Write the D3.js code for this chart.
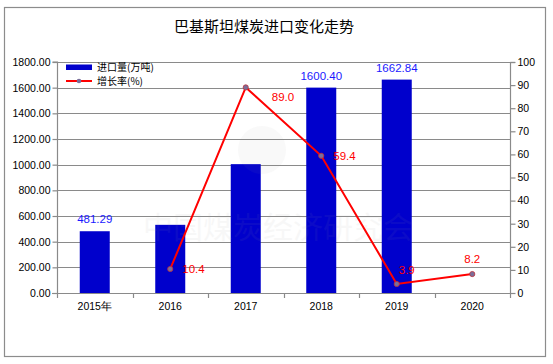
<!DOCTYPE html>
<html><head><meta charset="utf-8">
<script src="https://cdn.jsdelivr.net/npm/d3@7/dist/d3.min.js"></script>
<style>body{margin:0;background:#fff}svg{display:block}</style>
</head><body>
<svg id="c" width="553" height="364"></svg>
<script>
const title = "巴基斯坦煤炭进口变化走势";
const categories = ["2015年", "2016", "2017", "2018", "2019", "2020"];
const imports = [481.29, 531.2, 1004.0, 1600.40, 1662.84, null];
const importLabels = ["481.29", null, null, "1600.40", "1662.84", null];
const growth = [null, 10.4, 89.0, 59.4, 3.9, 8.2];
const growthLabels = [null, "10.4", "89.0", "59.4", "3.9", "8.2"];
const leftTicks = [0, 200, 400, 600, 800, 1000, 1200, 1400, 1600, 1800];
const rightTicks = [0, 10, 20, 30, 40, 50, 60, 70, 80, 90, 100];
const legendNames = ["进口量(万吨)", "增长率(%)"];
const watermark = "中国煤炭经济研究会";

const svg = d3.select("#c");
const L = 57, R = 510, T = 62, B = 293;
const numFont = "'Liberation Sans', Arial, sans-serif";
const cjkFont = "'Noto Sans CJK SC', sans-serif";

// outer border
svg.append("rect").attr("x", 4.5).attr("y", 7.5).attr("width", 541).attr("height", 349)
  .attr("fill", "#fff").attr("stroke", "#8c8c8c").attr("stroke-width", 1.2);

svg.append("text").attr("x", 264).attr("y", 32).attr("text-anchor", "middle")
  .attr("font-family", cjkFont).attr("font-size", 15).attr("fill", "#000").text(title);

const x = d3.scaleBand().domain(categories).range([L, R]);
const yL = d3.scaleLinear().domain([0, 1800]).range([B, T]);
const yR = d3.scaleLinear().domain([0, 100]).range([B, T]);

// gridlines
svg.append("g").selectAll("line").data(leftTicks.filter(d => d > 0)).join("line")
  .attr("x1", L).attr("x2", R).attr("y1", d => Math.round(yL(d)) + 0.5).attr("y2", d => Math.round(yL(d)) + 0.5)
  .attr("stroke", "#8a8a8a").attr("stroke-width", 1);

// bars
const bw = 30;
svg.append("g").selectAll("rect").data(categories.map((c, i) => ({c, v: imports[i]})).filter(d => d.v != null))
  .join("rect")
  .attr("x", d => x(d.c) + x.bandwidth() / 2 - bw / 2).attr("width", bw)
  .attr("y", d => yL(d.v)).attr("height", d => yL(0) - yL(d.v))
  .attr("fill", "#0000cc");

// watermark (faint, on top)
svg.append("circle").attr("cx", 262).attr("cy", 150).attr("r", 24)
  .attr("fill", "#999").attr("opacity", 0.06);
svg.append("text").attr("x", 278).attr("y", 238).attr("text-anchor", "middle")
  .attr("font-family", cjkFont).attr("font-size", 30).attr("fill", "#999").attr("opacity", 0.07)
  .text(watermark);

// bar labels
svg.append("g").selectAll("text").data(categories.map((c, i) => ({c, v: imports[i], t: importLabels[i]})).filter(d => d.t))
  .join("text")
  .attr("x", d => x(d.c) + x.bandwidth() / 2).attr("y", d => yL(d.v) - 8)
  .attr("text-anchor", "middle").attr("font-family", numFont).attr("font-size", 11.5)
  .attr("fill", "#1a1aff").text(d => d.t);

// axes
const axisColor = "#8a8a8a";
const leftAxis = svg.append("g").attr("transform", `translate(${L + 0.5},0)`)
  .call(d3.axisLeft(yL).tickValues(leftTicks).tickFormat(d3.format(".2f")).tickSize(5).tickPadding(2));
const rightAxis = svg.append("g").attr("transform", `translate(${R + 0.5},0)`)
  .call(d3.axisRight(yR).tickValues(rightTicks).tickSize(5).tickPadding(2));
const bottomAxis = svg.append("g").attr("transform", `translate(0,${B + 0.5})`)
  .call(d3.axisBottom(x).tickSize(0).tickPadding(9));
[leftAxis, rightAxis, bottomAxis].forEach(g => {
  g.selectAll("path,line").attr("stroke", axisColor).attr("stroke-width", 1.2);
  g.selectAll("text").attr("font-family", numFont).attr("font-size", 10.5).attr("fill", "#000");
});
bottomAxis.select("path").remove();
svg.append("line").attr("x1", L - 5).attr("x2", R).attr("y1", B + 0.5).attr("y2", B + 0.5)
  .attr("stroke", axisColor).attr("stroke-width", 1.2);
svg.append("g").selectAll("line").data(d3.range(categories.length + 1)).join("line")
  .attr("x1", i => Math.round(L + i * x.step()) + 0.5).attr("x2", i => Math.round(L + i * x.step()) + 0.5)
  .attr("y1", B).attr("y2", B + 5).attr("stroke", axisColor).attr("stroke-width", 1.2);
leftAxis.selectAll("path").attr("d", `M-5,${T}H0V${B}`);
rightAxis.selectAll("path").attr("d", `M0,${T}V${B}`);
svg.append("line").attr("x1", R).attr("x2", R + 5).attr("y1", T + 0.5).attr("y2", T + 0.5)
  .attr("stroke", axisColor).attr("stroke-width", 1.2);

// growth line
const gdata = categories.map((c, i) => ({c, v: growth[i], t: growthLabels[i], i})).filter(d => d.v != null);
const gx = d => x(d.c) + x.bandwidth() / 2;
svg.append("path").datum(gdata)
  .attr("d", d3.line().x(gx).y(d => yR(d.v)))
  .attr("fill", "none").attr("stroke", "#ff0000").attr("stroke-width", 2);
svg.append("g").selectAll("circle").data(gdata).join("circle")
  .attr("cx", gx).attr("cy", d => yR(d.v)).attr("r", 2.6)
  .attr("fill", "#7a6f9a").attr("stroke", "#c0303a").attr("stroke-width", 0.8);

const labelOffsets = {1: [12, 4, "start"], 2: [26, 14, "start"], 3: [12, 4, "start"], 4: [2, -10, "start"], 5: [0, -11, "middle"]};
svg.append("g").selectAll("text").data(gdata).join("text")
  .attr("x", d => gx(d) + labelOffsets[d.i][0]).attr("y", d => yR(d.v) + labelOffsets[d.i][1])
  .attr("text-anchor", d => labelOffsets[d.i][2])
  .attr("font-family", numFont).attr("font-size", 11.5).attr("fill", "#ff0000").text(d => d.t);

// legend
const lg = svg.append("g");
lg.append("rect").attr("x", 66).attr("y", 64.5).attr("width", 26).attr("height", 5.5).attr("fill", "#0000cc");
lg.append("text").attr("x", 97).attr("y", 70.5).attr("font-family", cjkFont).attr("font-size", 10).attr("fill", "#000").text(legendNames[0]);
lg.append("line").attr("x1", 66).attr("x2", 92).attr("y1", 81).attr("y2", 81).attr("stroke", "#ff0000").attr("stroke-width", 2);
lg.append("circle").attr("cx", 79).attr("cy", 81).attr("r", 2.3).attr("fill", "#7a6f9a");
lg.append("text").attr("x", 97).attr("y", 85).attr("font-family", cjkFont).attr("font-size", 10).attr("fill", "#000").text(legendNames[1]);
</script>
</body></html>
